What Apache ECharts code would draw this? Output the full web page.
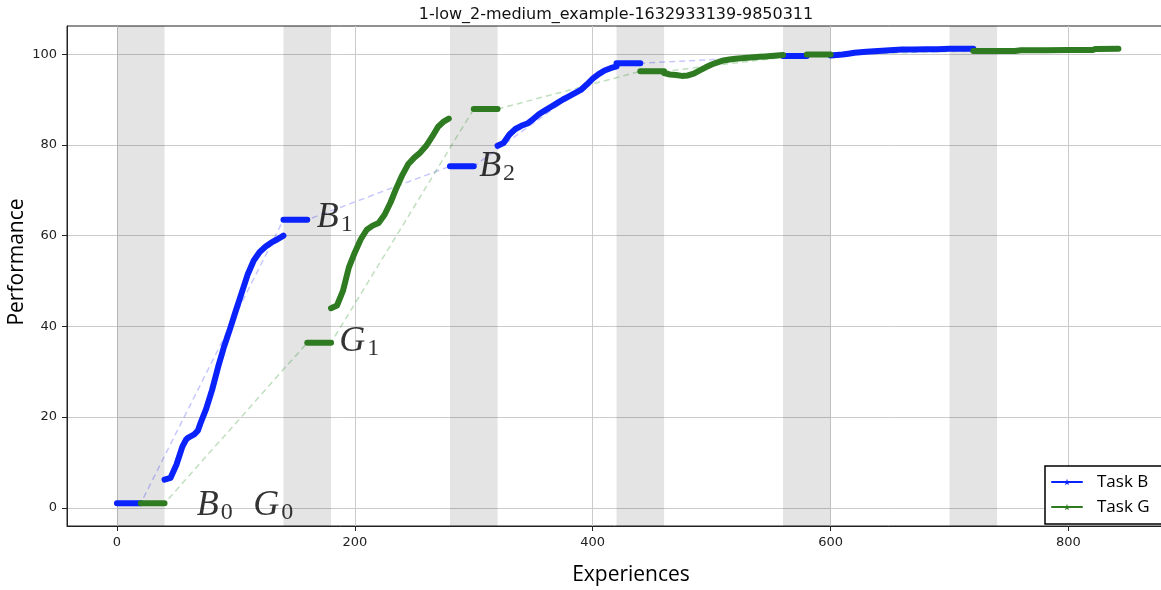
<!DOCTYPE html>
<html><head><meta charset="utf-8">
<script src="https://cdn.jsdelivr.net/npm/echarts@6/dist/echarts.min.js"></script>
<style>html,body{margin:0;padding:0;background:#fff}#c{width:1161px;height:590px}</style>
</head><body><div id="c"></div>
<script>
const chartTitle = '1-low_2-medium_example-1632933139-9850311';
const xTicks = [0, 200, 400, 600, 800];
const yTicks = [0, 20, 40, 60, 80, 100];
const bands = [[0, 40], [140, 180], [280, 320], [420, 460], [560, 600], [700, 740]];

// [start, end, value]
const bluePlateaus = [[0, 20, 1.0], [140, 160, 63.5], [280, 300, 75.3], [420, 440, 98.0], [560, 580, 99.6], [700, 720, 101.2]];
const greenPlateaus = [[20, 40, 1.0], [160, 180, 36.4], [300, 320, 87.9], [440, 460, 96.2], [580, 600, 99.9], [720, 740, 100.7]];

const blueCurveX1 = [40, 45, 50, 55, 58, 60, 65, 68, 70, 75, 80, 85, 90, 95, 100, 105, 110, 115, 120, 125, 130, 135, 140];
const blueCurveY1 = [6.2, 6.6, 9.5, 13.5, 15.0, 15.5, 16.2, 17.0, 18.5, 21.8, 26.0, 31.0, 35.5, 39.4, 43.5, 47.5, 51.5, 54.5, 56.4, 57.6, 58.5, 59.2, 60.0];

const greenCurveX2 = [180, 185, 190, 195, 200, 205, 210, 215, 220, 225, 230, 235, 240, 245, 250, 255, 260, 265, 270, 275, 279];
const greenCurveY2 = [44.0, 44.6, 47.8, 53.0, 56.3, 59.2, 61.3, 62.2, 62.8, 64.6, 67.3, 70.5, 73.4, 75.8, 77.2, 78.3, 79.8, 81.8, 84.0, 85.2, 85.8];

const blueCurveX3 = [320, 325, 330, 335, 340, 345, 350, 355, 360, 365, 370, 375, 380, 385, 390, 395, 400, 405, 410, 415, 420];
const blueCurveY3 = [79.8, 80.4, 82.3, 83.5, 84.2, 84.7, 85.7, 86.8, 87.6, 88.4, 89.2, 90.0, 90.7, 91.4, 92.1, 93.3, 94.6, 95.6, 96.4, 96.9, 97.3];

const greenCurveX4 = [460, 465, 470, 475, 480, 485, 490, 495, 500, 505, 510, 515, 520, 525, 530, 535, 540, 545, 550, 555, 560];
const greenCurveY4 = [95.8, 95.5, 95.4, 95.2, 95.3, 95.7, 96.4, 97.1, 97.7, 98.2, 98.6, 98.8, 99.0, 99.1, 99.2, 99.3, 99.4, 99.5, 99.6, 99.7, 99.8];

const blueCurveX5 = [600, 605, 610, 615, 620, 625, 630, 640, 650, 660, 670, 680, 690, 700];
const blueCurveY5 = [99.7, 99.8, 99.9, 100.1, 100.3, 100.4, 100.5, 100.7, 100.85, 101.0, 101.0, 101.05, 101.1, 101.2];

const greenCurveX6 = [740, 755, 760, 780, 800, 820, 823, 842];
const greenCurveY6 = [100.7, 100.7, 100.85, 100.85, 100.9, 100.9, 101.15, 101.2];

const annoLetters = ['B', 'G', 'B', 'G', 'B'];
const annoSubs = ['0', '0', '1', '1', '2'];
const annoX = [67, 114.5, 168, 187, 304.5];
const annoY = [0.55, 0.55, 64.0, 36.6, 75.2];

// ---- build helpers ----
function seg(xs, ys) { return xs.map((x, i) => [x, ys[i]]); }
function plateau(p) { return [[p[0], p[2]], [p[1], p[2]]]; }
function joinSegs(segs) {
  const out = [];
  segs.forEach((s, i) => { if (i) out.push([s[0][0], null]); s.forEach(pt => out.push(pt)); });
  return out;
}
function dashedPath(plats) {
  const out = [];
  plats.forEach(p => { out.push([p[0], p[2]]); out.push([p[1], p[2]]); });
  return out;
}

const blueData = joinSegs([
  plateau(bluePlateaus[0]), seg(blueCurveX1, blueCurveY1), plateau(bluePlateaus[1]),
  plateau(bluePlateaus[2]), seg(blueCurveX3, blueCurveY3), plateau(bluePlateaus[3]),
  plateau(bluePlateaus[4]), seg(blueCurveX5, blueCurveY5), plateau(bluePlateaus[5])
]);
const greenData = joinSegs([
  plateau(greenPlateaus[0]), plateau(greenPlateaus[1]), seg(greenCurveX2, greenCurveY2),
  plateau(greenPlateaus[2]), plateau(greenPlateaus[3]), seg(greenCurveX4, greenCurveY4),
  plateau(greenPlateaus[4]), plateau(greenPlateaus[5]), seg(greenCurveX6, greenCurveY6)
]);

const BLUE = '#0a22fb';
const GREEN = '#2f7b22';
const STAR = 'path://M0,-10L2.35,-3.24L9.51,-3.09L3.8,1.24L5.88,8.09L0,4L-5.88,8.09L-3.8,1.24L-9.51,-3.09L-2.35,-3.24Z';

const chart = echarts.init(document.getElementById('c'), null, {renderer: 'canvas'});
chart.setOption({
  animation: false,
  backgroundColor: '#fff',
  title: {
    text: chartTitle, left: 616, top: 0, textAlign: 'center', padding: [6, 0, 5, 0],
    textStyle: {fontFamily: 'DejaVu Sans', fontSize: 16, fontWeight: 'normal', color: '#111', lineHeight: 18}
  },
  grid: {left: 67, right: -5, top: 26, bottom: 64, show: true, borderColor: '#222', borderWidth: 1,
         backgroundColor: 'transparent', outerBoundsMode: 'none', containLabel: false},
  legend: {
    data: ['Task B', 'Task G'], orient: 'vertical', left: 1045, top: 466,
    padding: [6, 20, 7, 6], itemWidth: 30, itemHeight: 8, itemGap: 5,
    backgroundColor: '#fff', borderColor: '#000', borderWidth: 1.5, borderRadius: 0,
    textStyle: {fontFamily: 'Open Sans', fontSize: 17, color: '#000', lineHeight: 20, padding: [0, 0, 0, 10]},
    lineStyle: {width: 2}
  },
  xAxis: {
    type: 'value', min: -42, max: 882,
    name: 'Experiences', nameLocation: 'middle', nameGap: 37, nameMoveOverlap: false,
    nameTextStyle: {fontFamily: 'Open Sans', fontSize: 21, color: '#000', lineHeight: 24, padding: [0, 0, 0, 29]},
    axisLine: {show: true, onZero: false, lineStyle: {color: '#222', width: 1}},
    axisTick: {show: true, customValues: xTicks, length: 5, lineStyle: {color: '#222'}},
    axisLabel: {customValues: xTicks, fontFamily: 'DejaVu Sans', fontSize: 13, color: '#222', margin: 10},
    splitLine: {show: true, lineStyle: {color: '#cbcbcb', width: 1}}
  },
  yAxis: {
    type: 'value', min: -4, max: 106.2,
    name: 'Performance', nameLocation: 'middle', nameGap: 38, nameRotate: 90, nameMoveOverlap: false,
    nameTextStyle: {fontFamily: 'Open Sans', fontSize: 21, color: '#000', lineHeight: 24, padding: [0, 0, 0, 28]},
    axisLine: {show: true, onZero: false, lineStyle: {color: '#222', width: 1}},
    axisTick: {show: true, customValues: yTicks, length: 5, lineStyle: {color: '#222'}},
    axisLabel: {customValues: yTicks, fontFamily: 'DejaVu Sans', fontSize: 13, color: '#222', margin: 10},
    splitLine: {show: true, lineStyle: {color: '#cbcbcb', width: 1}}
  },
  series: [
    {
      type: 'line', name: 'blueDashed', data: dashedPath(bluePlateaus), symbol: 'none', z: 2, silent: true,
      lineStyle: {color: 'rgba(0,0,255,0.22)', width: 1.5, type: [6, 4]},
      markArea: {
        silent: true, itemStyle: {color: 'rgba(0,0,0,0.106)'},
        data: bands.map(b => [{xAxis: b[0]}, {xAxis: b[1]}])
      }
    },
    {
      type: 'line', name: 'greenDashed', data: dashedPath(greenPlateaus), symbol: 'none', z: 2, silent: true,
      lineStyle: {color: 'rgba(0,128,0,0.25)', width: 1.5, type: [6, 4]}
    },
    {
      type: 'line', name: 'Task B', data: blueData, symbol: STAR, showSymbol: false, connectNulls: false, z: 3,
      itemStyle: {color: BLUE}, lineStyle: {color: BLUE, width: 6, cap: 'round', join: 'round'}
    },
    {
      type: 'line', name: 'Task G', data: greenData, symbol: STAR, showSymbol: false, connectNulls: false, z: 4,
      itemStyle: {color: GREEN}, lineStyle: {color: GREEN, width: 6, cap: 'round', join: 'round'}
    },
    {
      type: 'scatter', name: 'labels', symbolSize: 0, z: 6, silent: true,
      data: annoX.map((x, i) => ({value: [x, annoY[i]], letter: annoLetters[i], sub: annoSubs[i]})),
      label: {
        show: true, position: 'right', distance: 0,
        formatter: p => '{m|' + p.data.letter + '}{s|' + p.data.sub + '}',
        rich: {
          m: {fontFamily: 'Liberation Serif', fontStyle: 'italic', fontSize: 36, lineHeight: 38, color: '#000', padding: [0, 2, 0, 0]},
          s: {fontFamily: 'Liberation Serif', fontSize: 24, lineHeight: 17, color: '#000', verticalAlign: 'bottom'}
        }
      }
    }
  ]
});
</script>
</body></html>
